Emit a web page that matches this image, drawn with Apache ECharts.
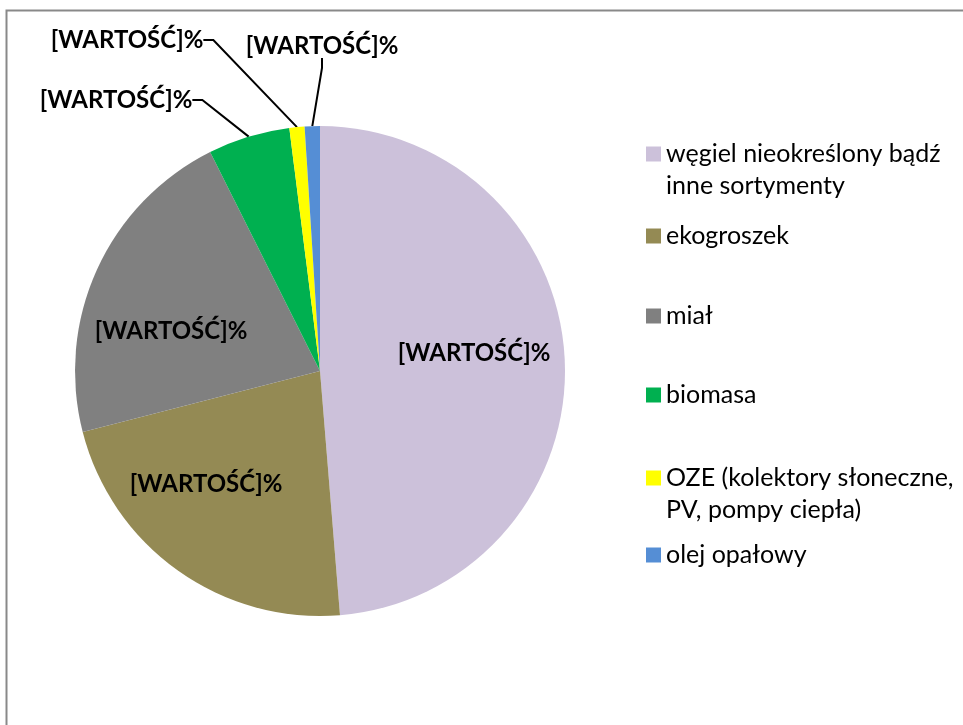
<!DOCTYPE html>
<html>
<head>
<meta charset="utf-8">
<script src="https://cdn.jsdelivr.net/npm/echarts@6/dist/echarts.min.js"></script>
<style>
  html, body { margin: 0; padding: 0; background: #fff; }
  #main { width: 963px; height: 725px; }
</style>
</head>
<body>
<div id="main"></div>
<script>
// dane
const categories = [
    'węgiel nieokreślony bądź\ninne sortymenty',
    'ekogroszek',
    'miał',
    'biomasa',
    'OZE (kolektory słoneczne,\nPV, pompy ciepła)',
    'olej opałowy'
];
const values = [48.7, 22.3, 21.6, 5.4, 1.0, 1.0];
const colors = ['#CCC1DA', '#948A54', '#808080', '#00B050', '#FFFF00', '#558ED5'];
const labelText = '[WARTOŚĆ]%';
const outsideLabel = [false, false, false, true, true, true];

// pozycje etykiet (srodek tekstu) i wierszy legendy
const labelPos = [[474, 353], [206, 484], [171, 331], [116, 100], [127, 40], [322, 46]];
const legendY = [154, 236, 316, 395, 478, 555];

const FONT = 'Lato';
const LH = 32;

let chart = echarts.init(document.getElementById('main'));

// kazdy wpis legendy osobno, zeby trzymac rowne odstepy jak w excelu
let legends = categories.map((name, i) => {
    let twoLines = name.indexOf('\n') >= 0;
    return {
        data: [name],
        orient: 'vertical',
        left: 646,
        top: legendY[i] - (twoLines ? LH * 1.5 : LH / 2),
        padding: 0,
        icon: 'rect',
        itemWidth: 15,
        itemHeight: 15,
        selectedMode: false,
        // pusty pierwszy wiersz -> ikonka na wysokosci pierwszej linii tekstu
        formatter: n => (n.indexOf('\n') >= 0 ? ' \n' + n : n),
        textStyle: {
            fontFamily: FONT,
            fontSize: 25,
            color: '#000',
            lineHeight: LH
        }
    };
});

chart.setOption({
    animation: false,
    color: colors,
    graphic: [{
        type: 'rect',
        shape: { x: 6.5, y: 10.5, width: 1000, height: 800 },
        style: { fill: 'none', stroke: '#898989', lineWidth: 2 }
    }],
    legend: legends,
    series: [{
        type: 'pie',
        center: [320, 371],
        radius: 245,
        startAngle: 90,
        clockwise: true,
        avoidLabelOverlap: false,
        itemStyle: { borderWidth: 0 },
        label: {
            show: true,
            position: 'inside',
            formatter: () => labelText,
            fontFamily: FONT,
            fontWeight: 'bold',
            fontSize: 24,
            color: '#000'
        },
        labelLine: {
            show: true,
            length: 10,
            length2: 10,
            lineStyle: { color: '#000', width: 2 }
        },
        labelLayout: function (params) {
            let p = labelPos[params.dataIndex];
            return { x: p[0], y: p[1], align: 'center', verticalAlign: 'middle' };
        },
        emphasis: { disabled: true },
        data: categories.map((name, i) => ({
            name: name,
            value: values[i],
            label: { position: outsideLabel[i] ? 'outside' : 'inside' },
            labelLine: { show: outsideLabel[i] }
        }))
    }]
});

window.addEventListener('resize', () => {
    chart.resize();
});
</script>
</body>
</html>
